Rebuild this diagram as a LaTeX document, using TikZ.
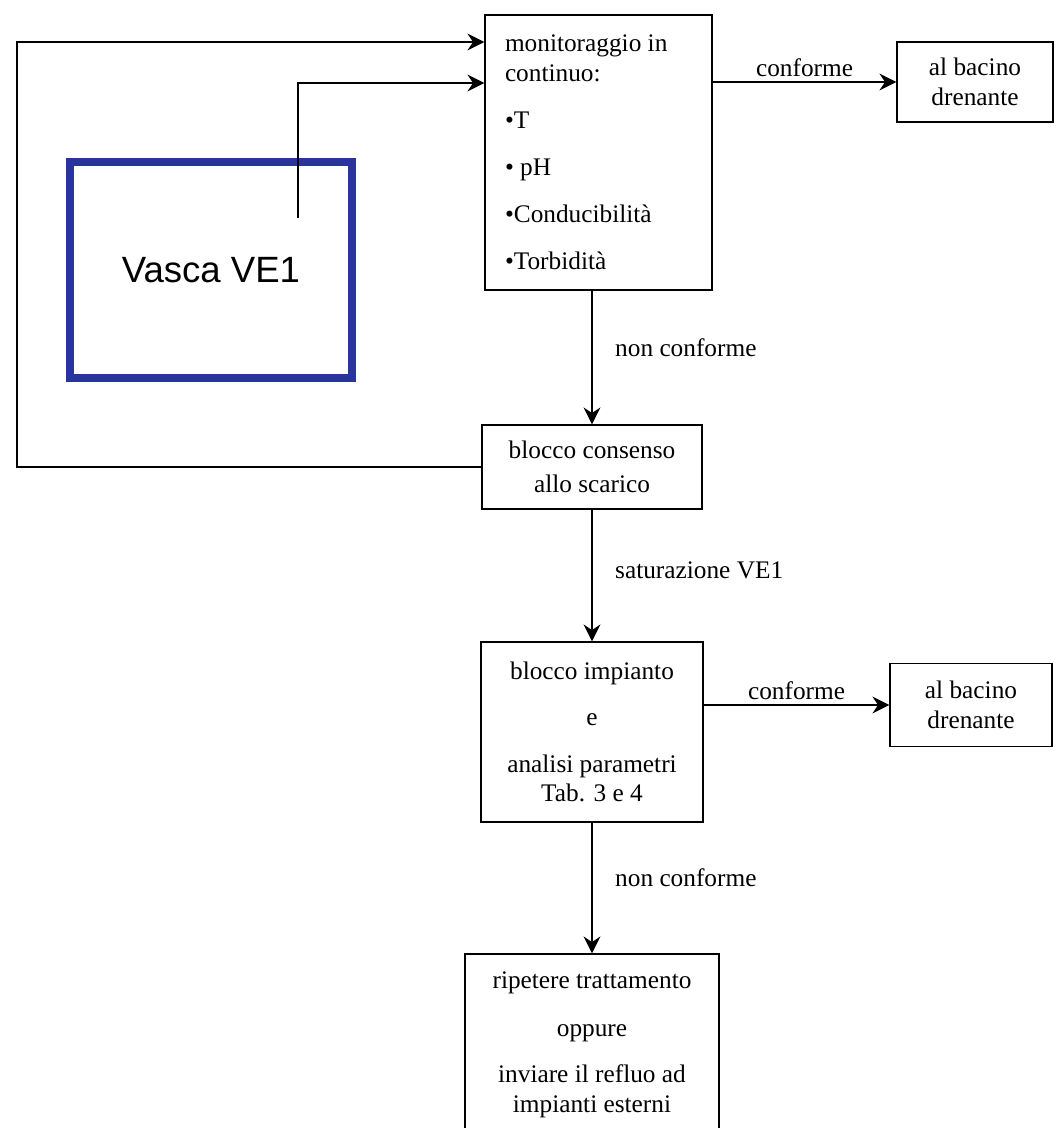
\documentclass[tikz,border=0pt]{standalone}
\usepackage{fontspec}
\setmainfont{Liberation Serif}
\newfontfamily\vascafont{Liberation Sans}
\usetikzlibrary{arrows.meta}
\definecolor{vascablue}{RGB}{42,52,158}

\begin{document}
\begin{tikzpicture}
[x=0.025cm,y=-0.025cm,
 boxdecorate/.style={shape=rectangle,draw,line width=1pt,inner sep=0pt,align=center,
   font=\fontsize{18pt}{21pt}\selectfont},
 tankdecorate/.style={shape=rectangle,draw=vascablue,line width=5pt,inner sep=0pt,
   font=\vascafont\fontsize{26pt}{30pt}\selectfont},
 linedecorate/.style={-{Stealth[length=12pt,width=12pt,inset=4pt]},line width=1pt},
 labeldecorate/.style={inner sep=3pt,font=\fontsize{18pt}{21pt}\selectfont}]
\useasboundingbox (0,0) rectangle (1055,1128);
%% nodes or vertices
\node (vasca) at (211,270) [tankdecorate,minimum width=282*0.025cm,minimum height=216*0.025cm] {Vasca VE1};
\node (mon) at (598.5,152.5) [boxdecorate,align=flush left,minimum height=275*0.025cm,
  text width=187*0.025cm,inner xsep=20*0.025cm]
  {monitoraggio in\\ continuo:\\[12.5pt] \textbullet T\\[12.5pt] \textbullet\ pH\\[12.5pt]
   \textbullet Conducibilità\\[12.5pt] \textbullet Torbidità};
\node (cons) at (592,467) [boxdecorate,minimum width=220*0.025cm,minimum height=84*0.025cm]
  {blocco consenso\\[3pt] allo scarico};
\node (imp) at (592,732) [boxdecorate,minimum width=222*0.025cm,minimum height=180*0.025cm]
  {blocco impianto\\[12pt] e\\[12pt] analisi parametri\\ Tab. 3 e 4};
\node (rip) at (592,1044.5) [boxdecorate,minimum width=254*0.025cm,minimum height=181*0.025cm]
  {ripetere trattamento\\[13pt] oppure\\[12pt] inviare il refluo ad\\ impianti esterni};
\foreach \nodename/\x/\y/\w/\h in {bacA/975/82/156/80, bacB/971/705/162/83} {
  \node (\nodename) at (\x,\y) [boxdecorate,minimum width=\w*0.025cm,minimum height=\h*0.025cm]
    {al bacino\\ drenante};
}
\coordinate (fb) at (17,42);
\coordinate (vout) at (298,218);
\coordinate (vbend) at (298,83);
%% edges or lines
\draw[linedecorate] (cons.west) -- (fb |- cons.west) -- (fb) -- (mon.west |- fb);
\draw[linedecorate] (vout) -- (vbend) -- (mon.west |- vbend);
\draw[linedecorate] (mon.east |- bacA.west) -- node[labeldecorate,above] {conforme} (bacA.west);
\draw[linedecorate] (mon.south -| cons.north) -- node[labeldecorate,right,pos=0.43,xshift=13pt] {non conforme} (cons.north);
\draw[linedecorate] (cons.south) -- node[labeldecorate,right,pos=0.46,xshift=13pt] {saturazione VE1} (imp.north);
\draw[linedecorate] (imp.east |- bacB.west) -- node[labeldecorate,above] {conforme} (bacB.west);
\draw[linedecorate] (imp.south) -- node[labeldecorate,right,pos=0.42,xshift=13pt] {non conforme} (rip.north);
\end{tikzpicture}
\end{document}
